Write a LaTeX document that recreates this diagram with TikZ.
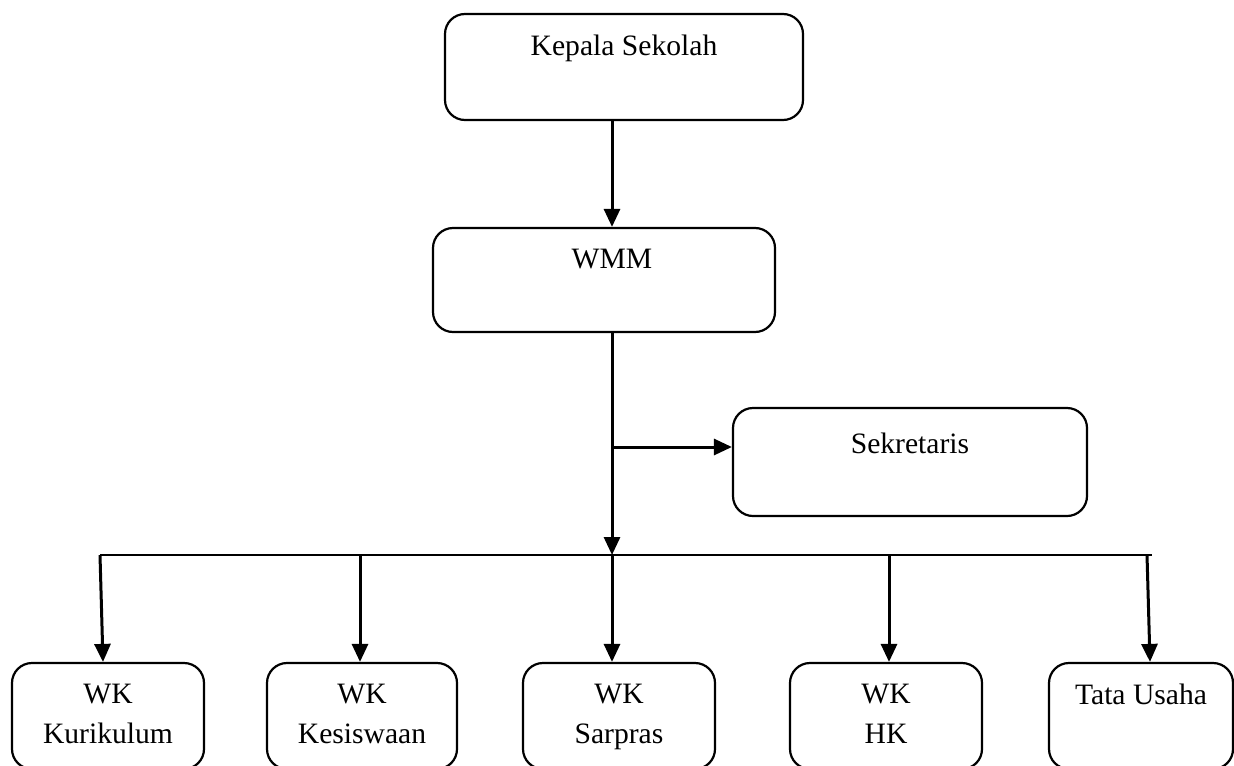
\documentclass[tikz,border=0pt]{standalone}
\usepackage{fontspec}
\setmainfont{Liberation Serif}
\usetikzlibrary{arrows.meta}

\begin{document}
\begin{tikzpicture}[x=0.5pt, y=-0.5pt,
  every node/.style={font=\fontsize{14.8}{20}\selectfont},
  unit/.style={draw, line width=1.1pt, rounded corners=10pt, inner sep=0pt, minimum height=53pt},
  txt/.style={anchor=north, inner sep=0pt, align=center, yshift=-11pt},
  arr/.style={line width=1.5pt, -{Triangle[length=9pt,width=8pt]}}]
\useasboundingbox (0,0) rectangle (1234,765);
% top of the chart
\node[unit, minimum width=179pt] (kepala) at (624,67) {};
\node[txt] (kepalatxt) at (kepala.north) {Kepala Sekolah};
\node[unit, minimum width=171pt, minimum height=52pt] (wmm) at (604,280) {};
\node[txt] (wmmtxt) at (wmm.north -| 612,0) {WMM};
\node[unit, minimum width=177pt, minimum height=54pt] (sek) at (910,462) {};
\node[txt, yshift=-2pt] (sektxt) at (sek.north) {Sekretaris};
% bottom row
\foreach \n/\x/\w/\t in {kur/108/96/{WK\\Kurikulum}, kes/362/95/{WK\\Kesiswaan}, sar/619/96/{WK\\Sarpras}, hk/886/96/{WK\\HK}, tu/1141/92/{Tata Usaha}} {
  \node[unit, minimum width=\w pt] (\n) at (\x,716) {};
  \node[txt] (\n txt) at (\n.north) {\t};
}
\coordinate (busL) at (100,555);
\coordinate (busR) at (1152,555);
\coordinate (spine) at (612,555);
\coordinate (branch) at (612,447);
\draw[arr] (kepala.south -| spine) -- (wmm.north -| spine);
\draw[line width=1.5pt] (wmm.south -| spine) -- (branch);
\draw[arr] (branch) -- (spine);
\draw[arr] (branch) -- (sek.west |- branch);
\draw[line width=1pt] (busL) -- (busR);
\foreach \n/\xa/\xb in {kur/100/103, kes/360/360, hk/889/889, tu/1147/1150}
  \draw[arr] (busL -| \xa,0) -- (\n.north -| \xb,0);
\draw[arr] (spine) -- (sar.north -| spine);
\end{tikzpicture}
\end{document}
